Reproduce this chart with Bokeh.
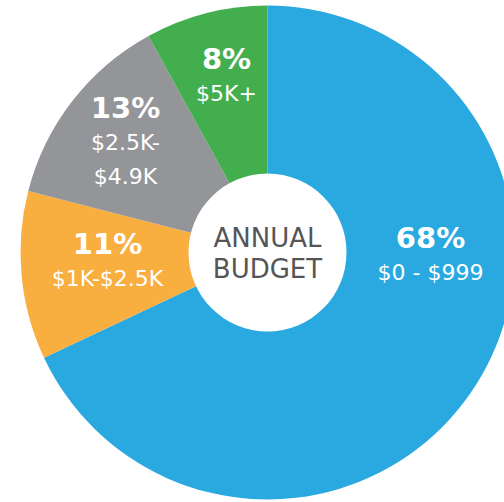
from bokeh.plotting import figure
from bokeh.models import Range1d, ColumnDataSource
from bokeh.core.properties import value
from bokeh.embed import file_html
from bokeh.resources import INLINE
import math

# data
categories = ["$0 - $999", "$1K-$2.5K", "$2.5K-\n$4.9K", "$5K+"]
shares = [68, 11, 13, 8]
pct_labels = ["68%", "11%", "13%", "8%"]
colors = ["#29A9E0", "#F9AE40", "#939598", "#43AE4E"]
center_title = "ANNUAL\nBUDGET"

W, H = 504, 502
cx, cy = 267, H - 252
R = 247
r_hole = 79

p = figure(width=W, height=H, output_backend="svg", toolbar_location=None,
           x_range=Range1d(0, W), y_range=Range1d(0, H), min_border=0)
p.axis.visible = False
p.grid.visible = False
p.outline_line_color = None
p.background_fill_color = "white"

total = sum(shares)
starts, ends = [], []
acc = 0
for s in shares:
    starts.append(math.pi / 2 - acc / total * 2 * math.pi)
    acc += s
    ends.append(math.pi / 2 - acc / total * 2 * math.pi)

src = ColumnDataSource(dict(start=starts, end=ends, color=colors))
p.wedge(x=cx, y=cy, radius=R, start_angle="start", end_angle="end",
        direction="clock", fill_color="color", line_color=None, source=src)
p.scatter(x=[cx], y=[cy], size=2 * r_hole, fill_color="white", line_color=None)

# label anchors (layout): pixel position of the percent label for each slice
label_pos = [(430, 237), (107, 243), (125, 107), (226, 58)]
font = value("DejaVu Sans")
for (lx, ly), pct, cat in zip(label_pos, pct_labels, categories):
    p.text(x=[lx], y=[H - ly], text=[pct], text_font=font, text_font_style="bold",
           text_font_size="29px", text_color="white", text_align="center",
           text_baseline="middle")
    lines = cat.split("\n")
    for i, ln in enumerate(lines):
        p.text(x=[lx], y=[H - (ly + 35 + 34 * i)], text=[ln], text_font=font,
               text_font_size="22px", text_color="white", text_align="center",
               text_baseline="middle")

for i, ln in enumerate(center_title.split("\n")):
    p.text(x=[cx], y=[H - (237 + 31 * i)], text=[ln], text_font=font,
           text_font_size="26px", text_color="#555555", text_align="center",
           text_baseline="middle")

open("out.html", "w").write(file_html(p, INLINE))
